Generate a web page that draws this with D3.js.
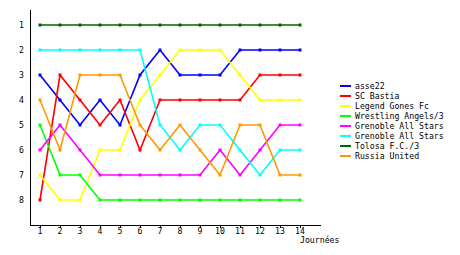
<!DOCTYPE html>
<html>
<head>
<meta charset="utf-8">
<script src="https://cdn.jsdelivr.net/npm/d3@7"></script>
<style>
body { margin: 0; background: #fff; }
text { font-family: "DejaVu Sans Mono", monospace; font-size: 8.2px; fill: #000; }
</style>
</head>
<body>
<div id="chart"></div>
<script>
// journées and team rankings
var days = [1, 2, 3, 4, 5, 6, 7, 8, 9, 10, 11, 12, 13, 14];
var ranks = [1, 2, 3, 4, 5, 6, 7, 8];
var teams = ["asse22", "SC Bastia", "Legend Gones Fc", "Wrestling Angels/3",
             "Grenoble All Stars", "Grenoble All Stars", "Tolosa F.C./3", "Russia United"];
var colors = ["#0000ff", "#ff0000", "#ffff00", "#00ff00", "#ff00ff", "#00ffff", "#006400", "#ff9900"];

var asse22 = [3, 4, 5, 4, 5, 3, 2, 3, 3, 3, 2, 2, 2, 2];
var bastia = [8, 3, 4, 5, 4, 6, 4, 4, 4, 4, 4, 3, 3, 3];
var gones = [7, 8, 8, 6, 6, 4, 3, 2, 2, 2, 3, 4, 4, 4];
var wrestling = [5, 7, 7, 8, 8, 8, 8, 8, 8, 8, 8, 8, 8, 8];
var grenoble1 = [6, 5, 6, 7, 7, 7, 7, 7, 7, 6, 7, 6, 5, 5];
var grenoble2 = [2, 2, 2, 2, 2, 2, 5, 6, 5, 5, 6, 7, 6, 6];
var tolosa = [1, 1, 1, 1, 1, 1, 1, 1, 1, 1, 1, 1, 1, 1];
var russia = [4, 6, 3, 3, 3, 5, 6, 5, 6, 7, 5, 5, 7, 7];
var series = [asse22, bastia, gones, wrestling, grenoble1, grenoble2, tolosa, russia];

var svgWidth = 460, svgHeight = 255;

var svg = d3.select("#chart").append("svg")
	.attr("width", svgWidth)
	.attr("height", svgHeight);

var x = d3.scaleLinear().domain([1, 14]).range([40, 300]);
var y = d3.scaleLinear().domain([0.4, 9]).range([10, 225]);

// axes
svg.append("line")
	.attr("x1", 30.5).attr("x2", 30.5)
	.attr("y1", 10).attr("y2", 226)
	.attr("stroke", "#000").attr("stroke-width", 1);
svg.append("line")
	.attr("x1", 30).attr("x2", 321)
	.attr("y1", 225.5).attr("y2", 225.5)
	.attr("stroke", "#000").attr("stroke-width", 1);

svg.selectAll(".ylab")
	.data(ranks)
	.enter().append("text")
	.attr("class", "ylab")
	.attr("x", 24)
	.attr("y", function(d) { return y(d) + 3; })
	.attr("text-anchor", "end")
	.text(function(d) { return d; });

svg.selectAll(".xtick")
	.data(days)
	.enter().append("line")
	.attr("x1", function(d) { return Math.round(x(d)) + 0.5; })
	.attr("x2", function(d) { return Math.round(x(d)) + 0.5; })
	.attr("y1", 226).attr("y2", 228)
	.attr("stroke", "#000");

svg.selectAll(".xlab")
	.data(days)
	.enter().append("text")
	.attr("class", "xlab")
	.attr("x", function(d) { return x(d); })
	.attr("y", 233.5)
	.attr("text-anchor", "middle")
	.text(function(d) { return d; });

svg.append("text")
	.attr("x", 300)
	.attr("y", 242.5)
	.text("Journées");

// lines
var line = d3.line()
	.x(function(d, i) { return x(days[i]); })
	.y(function(d) { return y(d); });

series.forEach(function(s, k) {
	svg.append("path")
		.attr("d", line(s))
		.attr("fill", "none")
		.attr("stroke", colors[k])
		.attr("stroke-width", 1.6);
	svg.selectAll(".m" + k)
		.data(s)
		.enter().append("rect")
		.attr("x", function(d, i) { return Math.round(x(days[i])) - 1.5; })
		.attr("y", function(d) { return Math.round(y(d)) - 1.5; })
		.attr("width", 3).attr("height", 3)
		.attr("fill", colors[k]);
});

// legend
var leg = svg.selectAll(".leg")
	.data(teams)
	.enter().append("g")
	.attr("transform", function(d, i) { return "translate(340," + (86 + i * 10) + ")"; });
leg.append("rect")
	.attr("x", 0).attr("y", -1)
	.attr("width", 11).attr("height", 2)
	.attr("fill", function(d, i) { return colors[i]; });
leg.append("text")
	.attr("x", 15)
	.attr("y", 3)
	.text(function(d) { return d; });
</script>
</body>
</html>
